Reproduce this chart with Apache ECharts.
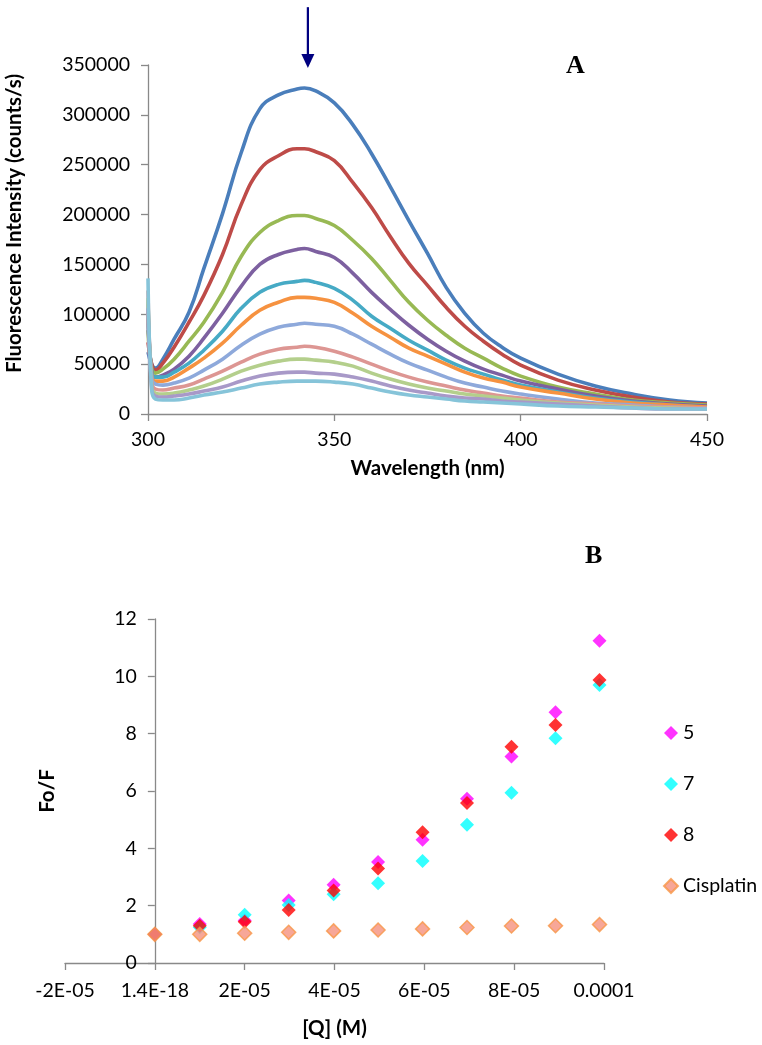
<!DOCTYPE html>
<html>
<head>
<meta charset="utf-8">
<script src="https://cdn.jsdelivr.net/npm/echarts@6/dist/echarts.min.js"></script>
<style>
html,body{margin:0;padding:0;background:#fff;}
#chart{width:762px;height:1045px;}
</style>
</head>
<body>
<div id="chart"></div>
<script>
// ---------- Panel A: emission spectra ----------
const wavelengths = [300,301,302,304,307,311,315,320,325,330,335,340,342,345,350,355,360,365,370,375,380,385,390,395,400,410,420,430,440,450];
const spec1  = [62000,50000,46000,55000,75000,102000,146000,201000,262000,306000,320000,326000,327000,324000,312000,290000,261000,228000,194000,161000,127000,101000,81000,67000,56000,40000,28000,20000,14000,11000];
const spec2  = [72000,50000,44000,51000,67000,92000,119000,160000,210000,245000,259000,266000,266000,263000,254000,232000,207000,178000,151000,129000,107000,88000,73000,60000,49000,34000,24000,17000,12000,10000];
const spec3  = [84000,46000,41000,45000,55000,73000,92000,122000,158000,182000,194000,199000,199000,196000,189000,174000,156000,134000,112000,94000,79000,66000,56000,46000,38000,27000,20000,14000,11000,9000];
const spec4  = [96000,42000,37000,39000,45000,58000,76000,101000,128000,150000,160000,165000,166000,163000,157000,141000,122000,105000,89000,75000,63000,53000,45000,39000,33000,25000,18000,13000,10000,8000];
const spec5  = [102000,42000,37000,37000,42000,51000,64000,83000,106000,122000,130000,133000,134000,132000,126000,114000,98000,86000,74000,64000,54000,46000,40000,34000,29000,22000,16000,12000,9000,7000];
const spec6  = [110000,38000,33000,33000,37000,46000,56000,71000,89000,104000,112000,117000,117000,116000,112000,101000,88000,77000,66000,58000,50000,42000,36000,32000,27000,21000,15000,11000,9000,7000];
const spec7  = [114000,36000,30000,29000,31000,36000,44000,55000,69000,80000,87000,90000,91000,90000,88000,80000,70000,60000,51000,44000,37000,31000,27000,23000,20000,15000,11000,9000,7000,6000];
const spec8  = [124000,32000,25000,24000,26000,29000,35000,43000,52000,60000,65000,67000,68000,67000,63000,57000,50000,43000,37000,32000,28000,24000,21000,18000,16000,12000,10000,8000,7000,6000];
const spec9  = [116000,28000,21000,20000,21000,24000,28000,35000,43000,49000,53000,55000,55000,54000,52000,48000,41000,35000,30000,26000,23000,20000,18000,16000,14000,11000,9000,7000,6000,5000];
const spec10 = [106000,25000,18000,17000,18000,20000,23000,27000,33000,38000,41000,42000,42000,41000,40000,37000,33000,28000,24000,21000,18000,16000,15000,13000,12000,10000,8000,6000,5000,5000];
const spec11 = [136000,24000,15000,14000,14000,16000,19000,22000,26000,30000,32000,33000,33000,33000,32000,30000,26000,22000,19000,17000,15000,13000,12000,11000,10000,8000,7000,6000,5000,5000];
const spectra = [spec1,spec2,spec3,spec4,spec5,spec6,spec7,spec8,spec9,spec10,spec11];
const specColors = ['#4A7EBB','#BE4B48','#98B954','#7D60A0','#46AAC5','#F69240','#8EA9DB','#DD9693','#B4CF8C','#A899C8','#86C4D9'];
const arrowX = 342.9;          // arrow marking the emission maximum (data units)
const arrowFrom = 408000, arrowTip = 347000;

// ---------- Panel B: Stern-Volmer ----------
const qConc = [0,1.0e-5,2.0e-5,2.98e-5,3.98e-5,4.97e-5,5.96e-5,6.95e-5,7.94e-5,8.92e-5,9.9e-5];
const fo5   = [1.0,1.36,1.48,2.18,2.73,3.52,4.30,5.73,7.20,8.75,11.24];
const fo7   = [1.0,1.25,1.68,2.02,2.40,2.78,3.56,4.82,5.94,7.84,9.70];
const fo8   = [1.0,1.30,1.44,1.85,2.53,3.30,4.56,5.58,7.54,8.30,9.87];
const foCis = [1.0,1.00,1.04,1.07,1.12,1.15,1.19,1.24,1.29,1.30,1.34];
const seriesNamesB = ['5','7','8','Cisplatin'];
const xTickLabelsB = ['-2E-05','1.4E-18','2E-05','4E-05','6E-05','8E-05','0.0001'];
const xMinB = -2e-5, xMaxB = 1e-4, xIntB = 2e-5;
const yMinB = 0, yMaxB = 12, yIntB = 2;

const FONT = 'Lato';
const axisGray = '#898989';
const axisLineCfg = {show:true, onZero:false, lineStyle:{color:axisGray, width:1.3}};
const tickCfg = {show:true, length:7, lineStyle:{color:axisGray, width:1.3}};
const titleStyle = {fontFamily:FONT, fontWeight:'bold', fontSize:20.5, color:'#000'};

const seriesA = spectra.map((arr, i) => ({
  type:'line', name:'s'+(i+1), xAxisIndex:0, yAxisIndex:0,
  data: wavelengths.map((w, j) => [w, arr[j]]),
  showSymbol:false, smooth:0.45,
  lineStyle:{color:specColors[i], width:3.6},
  itemStyle:{color:specColors[i]},
  silent:true
}));

const bData = [fo5, fo7, fo8, foCis];
const bColors = ['#FF00FF','#00FFFF','#FF0000','#F5917E'];
const seriesB = bData.map((arr, i) => ({
  type:'scatter', name:seriesNamesB[i], xAxisIndex:1, yAxisIndex:1,
  data: qConc.map((q, j) => [q, arr[j]]),
  symbol:'diamond', symbolSize:14,
  itemStyle: i === 3 ? {color:bColors[i], borderColor:'#F79646', borderWidth:1.5} : {color:bColors[i]}
}));

const chart = echarts.init(document.getElementById('chart'), null, {renderer:'canvas'});
chart.setOption({
  animation:false,
  backgroundColor:'#ffffff',
  title:[
    {text:'A', left:566, top:53, padding:0, textStyle:{fontFamily:'Liberation Serif', fontWeight:'bold', fontSize:26, color:'#000'}},
    {text:'B', left:585, top:543, padding:0, textStyle:{fontFamily:'Liberation Serif', fontWeight:'bold', fontSize:26, color:'#000'}}
  ],
  grid:[
    {left:148, top:65, width:559, height:349, outerBoundsMode:'none', containLabel:false},
    {left:65, top:619, width:539, height:344, outerBoundsMode:'none', containLabel:false}
  ],
  legend:{
    data:seriesNamesB, orient:'vertical', left:658, top:718,
    itemWidth:14, itemHeight:14, itemGap:31, icon:'diamond',
    textStyle:{fontFamily:FONT, fontSize:19.5, color:'#000'}
  },
  xAxis:[
    {type:'value', gridIndex:0, min:300, max:450, interval:50,
     axisLine:axisLineCfg, axisTick:tickCfg, splitLine:{show:false},
     axisLabel:{fontFamily:FONT, fontSize:19.5, color:'#000', margin:16},
     name:'Wavelength (nm)', nameLocation:'middle', nameGap:44,
     nameTextStyle:titleStyle},
    {type:'value', gridIndex:1, min:xMinB, max:xMaxB, interval:xIntB,
     axisLine:axisLineCfg, axisTick:tickCfg, splitLine:{show:false},
     axisLabel:{fontFamily:FONT, fontSize:19.5, color:'#000', margin:18,
       formatter:(v) => xTickLabelsB[Math.round((v - xMinB)/xIntB)] || ''},
     name:'[Q] (M)', nameLocation:'middle', nameGap:55,
     nameTextStyle:titleStyle}
  ],
  yAxis:[
    {type:'value', gridIndex:0, min:0, max:350000, interval:50000,
     axisLine:axisLineCfg, axisTick:tickCfg, splitLine:{show:false},
     axisLabel:{fontFamily:FONT, fontSize:19.5, color:'#000', margin:18, formatter:(v) => String(Math.round(v))},
     name:'Fluorescence Intensity (counts/s)', nameLocation:'middle', nameGap:123,
     nameTextStyle:Object.assign({}, titleStyle, {padding:[0,0,0,32]})},
    {type:'value', gridIndex:1, min:yMinB, max:yMaxB, interval:yIntB, position:'left', offset:0,
     axisLine:axisLineCfg, axisTick:tickCfg, splitLine:{show:false},
     axisLabel:{fontFamily:FONT, fontSize:19.5, color:'#000', margin:18},
     name:'Fo/F', nameLocation:'middle', nameGap:97, nameTextStyle:titleStyle}
  ],
  series: seriesA.concat(seriesB)
});

// Panel B: the value axis crosses the category axis at [Q] = 0 (Excel style).
const xZeroPx = chart.convertToPixel({xAxisIndex:1}, 0);
const xMinPx = chart.convertToPixel({xAxisIndex:1}, xMinB);
chart.setOption({yAxis:[{}, {offset: -(xZeroPx - xMinPx)}]});

// Arrow annotation placed through the panel-A scales
const pTop = chart.convertToPixel({xAxisIndex:0, yAxisIndex:0}, [arrowX, arrowFrom]);
const pTip = chart.convertToPixel({xAxisIndex:0, yAxisIndex:0}, [arrowX, arrowTip]);
const headH = 14, headW = 6.5;
chart.setOption({
  graphic:[
    {type:'line', shape:{x1:pTop[0], y1:pTop[1], x2:pTip[0], y2:pTip[1]-headH+1}, style:{stroke:'#000080', lineWidth:2.2}},
    {type:'polygon', shape:{points:[[pTip[0]-headW, pTip[1]-headH],[pTip[0]+headW, pTip[1]-headH],[pTip[0], pTip[1]]]}, style:{fill:'#000080'}}
  ]
});
</script>
</body>
</html>
